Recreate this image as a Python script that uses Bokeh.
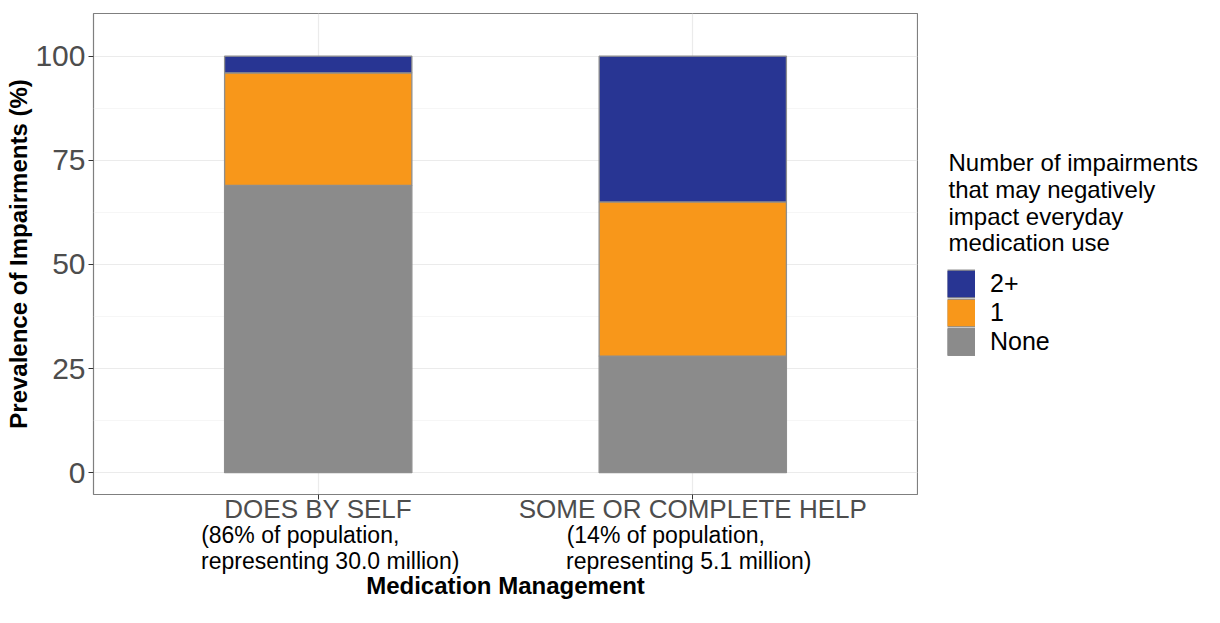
from bokeh.plotting import figure
from bokeh.layouts import row
from bokeh.models import (Range1d, FixedTicker, Label, ColumnDataSource,
                          Legend, LegendItem, LinearAxis)
from bokeh.embed import file_html
from bokeh.resources import INLINE

# ---------------- data ----------------
categories = ["DOES BY SELF", "SOME OR COMPLETE HELP"]
population_line1 = ["(86% of population,", "(14% of population,"]
population_line2 = ["representing 30.0 million)", "representing 5.1 million)"]
none_vals = [69, 28]
one_vals = [27, 37]
two_plus_vals = [4, 35]
y_ticks = [0, 25, 50, 75, 100]
y_minor = [12.5, 37.5, 62.5, 87.5]
series_fields = ["none", "one", "two_plus"]
series_labels = ["None", "1", "2+"]
series_colors = ["#8B8B8B", "#F8971A", "#283593"]
legend_title_lines = ["Number of impairments", "that may negatively",
                      "impact everyday", "medication use"]
x_title = "Medication Management"
y_title = "Prevalence of Impairments (%)"

FONT = "Liberation Sans"
OUTLINE = "#8E8E8E"

xpos = [i + 1 for i in range(len(categories))]
source = ColumnDataSource(dict(x=xpos, none=none_vals, one=one_vals,
                               two_plus=two_plus_vals))

MAIN_W, H = 918, 601
p = figure(width=MAIN_W, height=H, output_backend="svg", toolbar_location=None,
           x_range=Range1d(0.4, 2.6), y_range=Range1d(-5.25, 110.25),
           min_border_left=93, min_border_right=1, min_border_top=13,
           min_border_bottom=0)

renderers = p.vbar_stack(series_fields, x="x", width=0.5, source=source,
                         fill_color=series_colors, line_color=OUTLINE,
                         line_width=1.3)

# ---------------- axes ----------------
p.xaxis.ticker = FixedTicker(ticks=xpos)
p.xaxis.major_label_overrides = {x: c for x, c in zip(xpos, categories)}
p.yaxis.ticker = FixedTicker(ticks=y_ticks, minor_ticks=y_minor)
for ax in (p.xaxis[0], p.yaxis[0]):
    ax.axis_line_color = None
    ax.major_tick_line_color = "#333333"
    ax.major_tick_out = 5
    ax.major_tick_in = 0
    ax.minor_tick_line_color = None
    ax.major_label_text_font = FONT
    ax.major_label_text_color = "#4D4D4D"

p.yaxis.major_label_text_font_size = "30px"
p.yaxis.major_label_standoff = 3
p.yaxis.axis_label = y_title
p.yaxis.axis_label_standoff = 0
p.yaxis.axis_label_text_font = FONT
p.yaxis.axis_label_text_font_style = "bold"
p.yaxis.axis_label_text_color = "black"
p.yaxis.axis_label_text_font_size = "24px"

p.xaxis.major_label_text_font_size = "26px"
p.xaxis.major_label_standoff = -6

# extra axes carrying the population lines under each category
px_per_unit = (917 - 93) / 2.2
line_shifts = [[-18, -27], [12, -4]]   # pixel shifts of line centres (layout)
line_texts = [population_line1, population_line2]
line_standoffs = [-5, -3]
extra_axes = []
for k in range(2):
    ticks = [xpos[i] + line_shifts[k][i] / px_per_unit for i in range(len(xpos))]
    ax = LinearAxis(ticker=FixedTicker(ticks=ticks),
                    major_label_overrides={t: line_texts[k][i] for i, t in enumerate(ticks)})
    ax.axis_line_color = None
    ax.major_tick_line_color = None
    ax.minor_tick_line_color = None
    ax.major_tick_out = 0
    ax.major_tick_in = 0
    ax.major_label_standoff = line_standoffs[k]
    ax.major_label_text_font = FONT
    ax.major_label_text_font_size = "23px"
    ax.major_label_text_color = "black"
    p.add_layout(ax, "below")
    extra_axes.append(ax)

last = extra_axes[-1]
last.axis_label = x_title
last.axis_label_standoff = -5
last.axis_label_text_font = FONT
last.axis_label_text_font_style = "bold"
last.axis_label_text_color = "black"
last.axis_label_text_font_size = "24px"

# ---------------- grid / frame ----------------
p.xgrid.grid_line_color = "#EBEBEB"
p.xgrid.grid_line_width = 1.2
p.ygrid.grid_line_color = "#EBEBEB"
p.ygrid.grid_line_width = 1.2
p.ygrid.minor_grid_line_color = "#F2F2F2"
p.ygrid.minor_grid_line_width = 0.7
p.outline_line_color = "#7F7F7F"
p.outline_line_width = 1.2
p.background_fill_color = "white"
p.border_fill_color = "white"

# ---------------- legend panel ----------------
LEG_W = 1204 - MAIN_W
q = figure(width=LEG_W, height=H, output_backend="svg", toolbar_location=None,
           x_range=Range1d(0, 1), y_range=Range1d(0, 1),
           min_border=0, min_border_left=0, min_border_right=0,
           min_border_top=0, min_border_bottom=0)
q.axis.visible = False
q.grid.visible = False
q.outline_line_color = None
q.background_fill_color = "white"
q.border_fill_color = "white"

FRAME_BOTTOM = 494   # frame of this panel is aligned with the main one
title_centres = [162, 189, 215.5, 242]
for i, line in enumerate(legend_title_lines):
    q.add_layout(Label(x=30, y=FRAME_BOTTOM - title_centres[i],
                       x_units="screen", y_units="screen",
                       text=line, text_font=FONT, text_font_size="24px",
                       text_color="black", text_baseline="middle",
                       text_align="left"))

# legend keys: hidden renderers (not drawn in the plot), shown only as keys
KEY = 29
key_src = ColumnDataSource(dict(x=[0, 1], y=[0.5, 0.5]))
items = []
for i in reversed(range(len(series_labels))):
    edge = q.line(x="x", y="y", source=key_src, line_color=OUTLINE,
                  line_width=KEY, line_cap="butt", visible=False)
    fill = q.line(x="x", y="y", source=key_src, line_color=series_colors[i],
                  line_width=KEY - 2.6, line_cap="butt", visible=False)
    items.append(LegendItem(label=series_labels[i], renderers=[edge, fill]))

legend = Legend(items=items, location=(29, FRAME_BOTTOM - 356),
                orientation="vertical", click_policy="none",
                glyph_width=28, glyph_height=KEY, label_height=KEY,
                label_standoff=15, spacing=0, padding=0, margin=0,
                label_text_font=FONT, label_text_font_size="25px",
                label_text_color="black", border_line_alpha=0,
                background_fill_alpha=0, inactive_fill_alpha=0)
q.add_layout(legend, "center")

layout = row(p, q)
open("out.html", "w").write(file_html(layout, INLINE))
